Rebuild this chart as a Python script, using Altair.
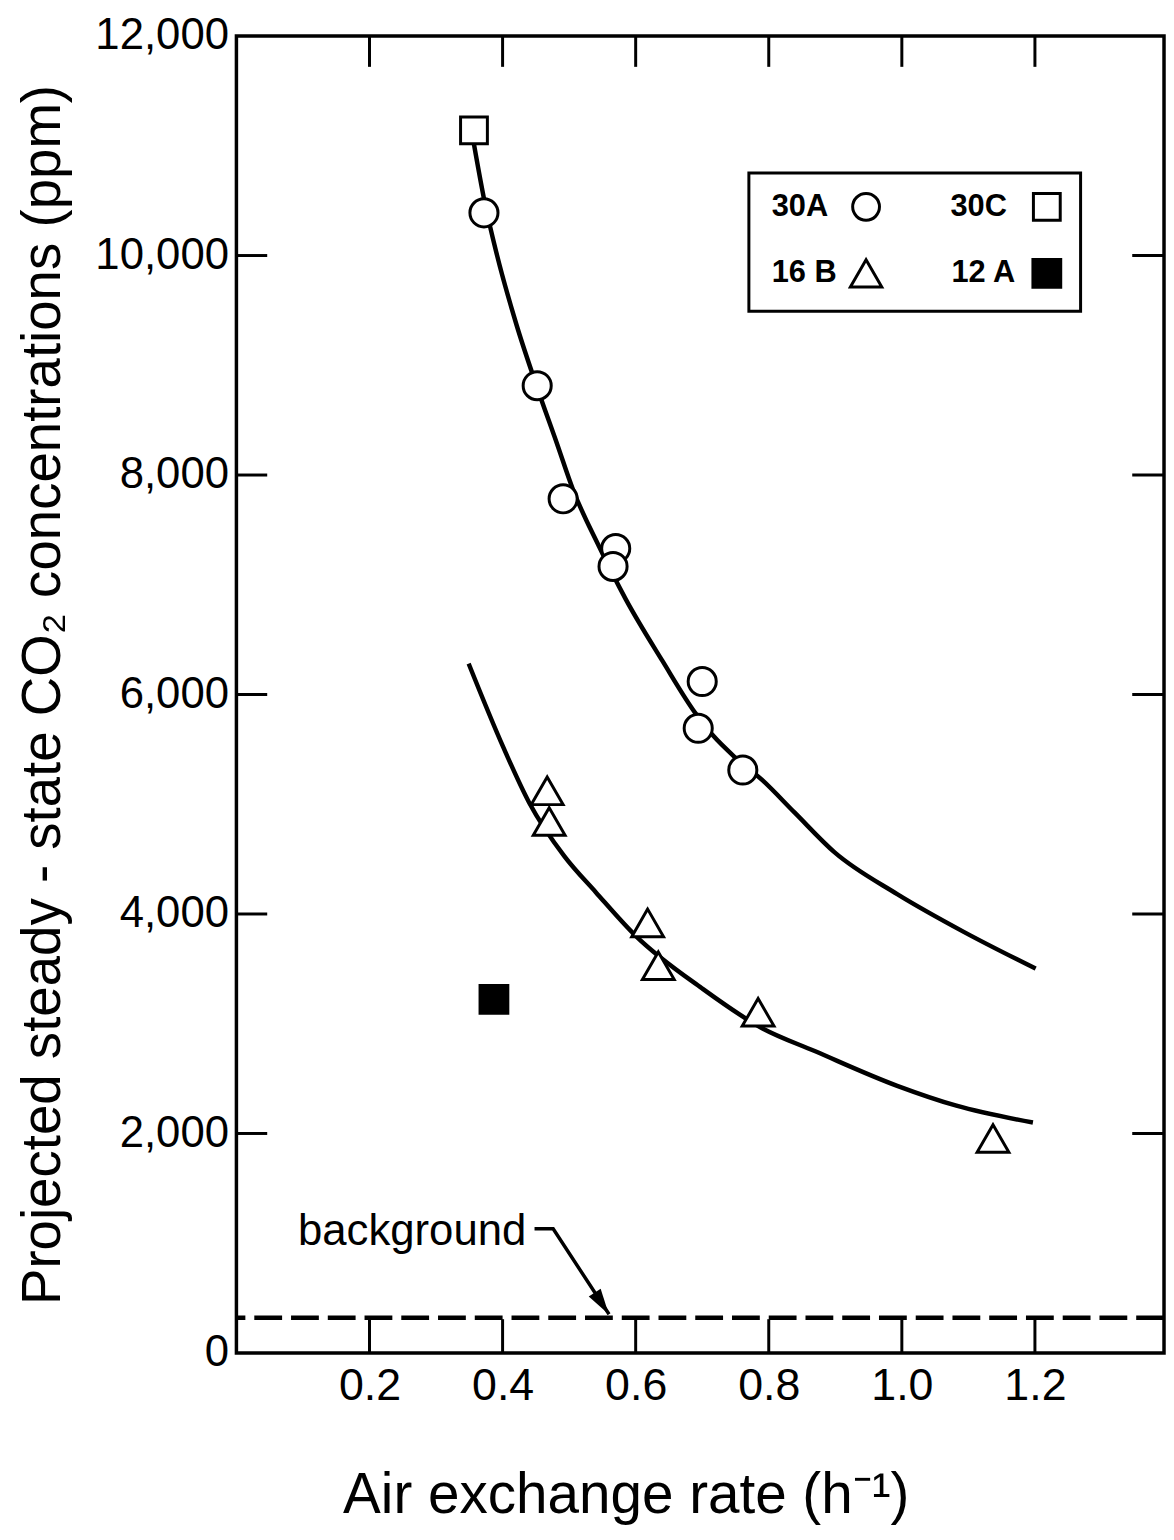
import altair as alt
import pandas as pd

# ---------------- data ----------------
# 30A (open circles)
a30_x = [0.372, 0.452, 0.491, 0.570, 0.566, 0.700, 0.694, 0.761]
a30_y = [10389, 8814, 7783, 7330, 7167, 6118, 5692, 5312]
# 30C (open square)
c30_x = [0.357]
c30_y = [11140]
# 16B (open triangles)
b16_x = [0.467, 0.470, 0.618, 0.634, 0.784, 1.137]
b16_y = [5122, 4842, 3919, 3529, 3104, 1955]
# 12A (filled square)
a12_x = [0.387]
a12_y = [3222]

# fitted curves
upper_x = [0.357, 0.373, 0.391, 0.421, 0.452, 0.481, 0.506, 0.545, 0.585,
           0.640, 0.690, 0.716, 0.749, 0.790, 0.839, 0.899, 0.993, 1.093, 1.201]
upper_y = [11014, 10489, 10018, 9367, 8796, 8299, 7864, 7348, 6869,
           6308, 5828, 5628, 5430, 5222, 4923, 4561, 4181, 3837, 3502]
lower_x = [0.349, 0.401, 0.440, 0.493, 0.540, 0.600, 0.700, 0.790, 0.869,
           0.993, 1.082, 1.197]
lower_y = [6281, 5520, 5014, 4525, 4199, 3801, 3321, 2959, 2751,
           2434, 2253, 2100]

background_ppm = [320]
background_label = ["background"]
label_pos_x = [0.0925]
label_pos_y = [986]
arrow_x = [0.448, 0.476, 0.560]
arrow_y = [1131, 1131, 353]
arrowhead_x = [0.549]
arrowhead_y = [452]

x_ticks = [0.2, 0.4, 0.6, 0.8, 1.0, 1.2]
y_ticks = [0, 2000, 4000, 6000, 8000, 10000, 12000]
y_inner_ticks = [2000, 4000, 6000, 8000, 10000]
legend_labels = ["30A", "30C", "16 B", "12 A"]

x_title = "Air exchange rate  (h\u207b\u00b9)"
y_title = "Projected steady - state CO\u2082 concentrations (ppm)"

# ---------------- chart ----------------
W, H = 934, 1326
FONT = "Liberation Sans"

xs = alt.Scale(domain=[0, 1.394], nice=False, zero=False)
ys = alt.Scale(domain=[0, 12000], nice=False)

AX = alt.Axis(values=x_ticks, format=".1f", ticks=False, domain=False, grid=False,
              labelFontSize=45, labelFont=FONT, labelColor="black", labelPadding=11,
              labelFlush=False, title=x_title, titleFontSize=57, titleFont=FONT,
              titleFontWeight="normal", titleColor="black", titleX=392, titleY=161,
              titleBaseline="alphabetic", titleAlign="center")
AY = alt.Axis(values=y_ticks, format=",.0f", ticks=False, domain=False, grid=False,
              labelFontSize=44, labelFont=FONT, labelColor="black", labelPadding=8,
              labelFlush=False, title=y_title, titleFontSize=55, titleFont=FONT,
              titleFontWeight="normal", titleColor="black", titleAngle=270,
              titleX=-178, titleY=663, titleBaseline="alphabetic", titleAlign="center")


def df(xv, yv):
    return pd.DataFrame({"x": xv, "y": yv})


def enc(chart):
    return chart.encode(x=alt.X("x:Q", scale=xs, axis=AX), y=alt.Y("y:Q", scale=ys, axis=AY))


layers = []

# curves
layers.append(enc(alt.Chart(df(upper_x, upper_y)).mark_line(
    color="black", strokeWidth=4.5, interpolate="monotone")))
layers.append(enc(alt.Chart(df(lower_x, lower_y)).mark_line(
    color="black", strokeWidth=4.5, interpolate="monotone")))

# background dashed line
layers.append(alt.Chart(pd.DataFrame({"y": background_ppm})).mark_rule(
    color="black", strokeWidth=4.5, strokeDash=[28, 9]).encode(
    y=alt.Y("y:Q", scale=ys, axis=AY)))

# background annotation
layers.append(enc(alt.Chart(pd.DataFrame({"x": label_pos_x, "y": label_pos_y,
                                          "t": background_label})).mark_text(
    align="left", baseline="alphabetic", fontSize=44, font=FONT, color="black")).encode(
    text="t:N"))
layers.append(enc(alt.Chart(df(arrow_x, arrow_y)).mark_line(
    color="black", strokeWidth=3.5)))
layers.append(enc(alt.Chart(df(arrowhead_x, arrowhead_y)).mark_point(
    shape="M0,1L-0.55,-1L0.55,-1Z", filled=True, color="black", opacity=1,
    size=676, angle=327)))

# inward ticks
layers.append(alt.Chart(pd.DataFrame({"x": x_ticks})).mark_rule(
    color="black", strokeWidth=3).encode(
    x=alt.X("x:Q", scale=xs, axis=AX), y=alt.value(H), y2=alt.value(H - 34)))
layers.append(alt.Chart(pd.DataFrame({"x": x_ticks})).mark_rule(
    color="black", strokeWidth=3).encode(
    x=alt.X("x:Q", scale=xs, axis=AX), y=alt.value(0), y2=alt.value(31)))
layers.append(alt.Chart(pd.DataFrame({"y": y_inner_ticks})).mark_rule(
    color="black", strokeWidth=3).encode(
    y=alt.Y("y:Q", scale=ys, axis=AY), x=alt.value(0), x2=alt.value(31)))
layers.append(alt.Chart(pd.DataFrame({"y": y_inner_ticks})).mark_rule(
    color="black", strokeWidth=3).encode(
    y=alt.Y("y:Q", scale=ys, axis=AY), x=alt.value(W - 32), x2=alt.value(W)))

# data markers
layers.append(enc(alt.Chart(df(a30_x, a30_y)).mark_point(
    shape="circle", filled=True, fill="white", stroke="black", strokeWidth=3,
    size=800, opacity=1)))
layers.append(enc(alt.Chart(df(c30_x, c30_y)).mark_point(
    shape="square", filled=True, fill="white", stroke="black", strokeWidth=3,
    size=729, opacity=1)))
layers.append(enc(alt.Chart(df(b16_x, b16_y)).mark_point(
    shape="triangle-up", filled=True, fill="white", stroke="black", strokeWidth=3,
    size=1024, opacity=1)))
layers.append(enc(alt.Chart(df(a12_x, a12_y)).mark_point(
    shape="square", filled=True, fill="black", stroke="black", strokeWidth=2,
    size=840, opacity=1)))

# legend box (drawn by hand, label left of symbol as in the figure)
one = pd.DataFrame({"k": [0]})
layers.append(alt.Chart(one).mark_rect(fill="white", stroke="black", strokeWidth=3).encode(
    x=alt.value(516), x2=alt.value(850), y=alt.value(138), y2=alt.value(277)))

leg_text_pos = [(539, 172), (719, 172), (539, 239), (720, 239)]
leg_sym_pos = [(634, 172), (816, 172), (634, 239), (816, 239)]
leg_sym = [("circle", "white", 729), ("square", "white", 729),
           ("triangle-up", "white", 1000), ("square", "black", 784)]
for lab, (tx, ty), (sx, sy), (shp, fll, sz) in zip(legend_labels, leg_text_pos,
                                                   leg_sym_pos, leg_sym):
    layers.append(alt.Chart(pd.DataFrame({"t": [lab]})).mark_text(
        align="left", baseline="middle", fontSize=31, fontWeight="bold",
        font=FONT, color="black").encode(
        text="t:N", x=alt.value(tx), y=alt.value(ty)))
    layers.append(alt.Chart(one).mark_point(
        shape=shp, filled=True, fill=fll, stroke="black", strokeWidth=3,
        size=sz, opacity=1).encode(x=alt.value(sx), y=alt.value(sy)))

chart = alt.layer(*layers).properties(
    width=W, height=H,
    autosize=alt.AutoSizeParams(type="none"),
    padding={"left": 230, "top": 23, "right": 2, "bottom": 170},
    background="white",
).configure_view(stroke="black", strokeWidth=3.5)

chart.save("out.html", embed_options={"renderer": "svg", "actions": False})
